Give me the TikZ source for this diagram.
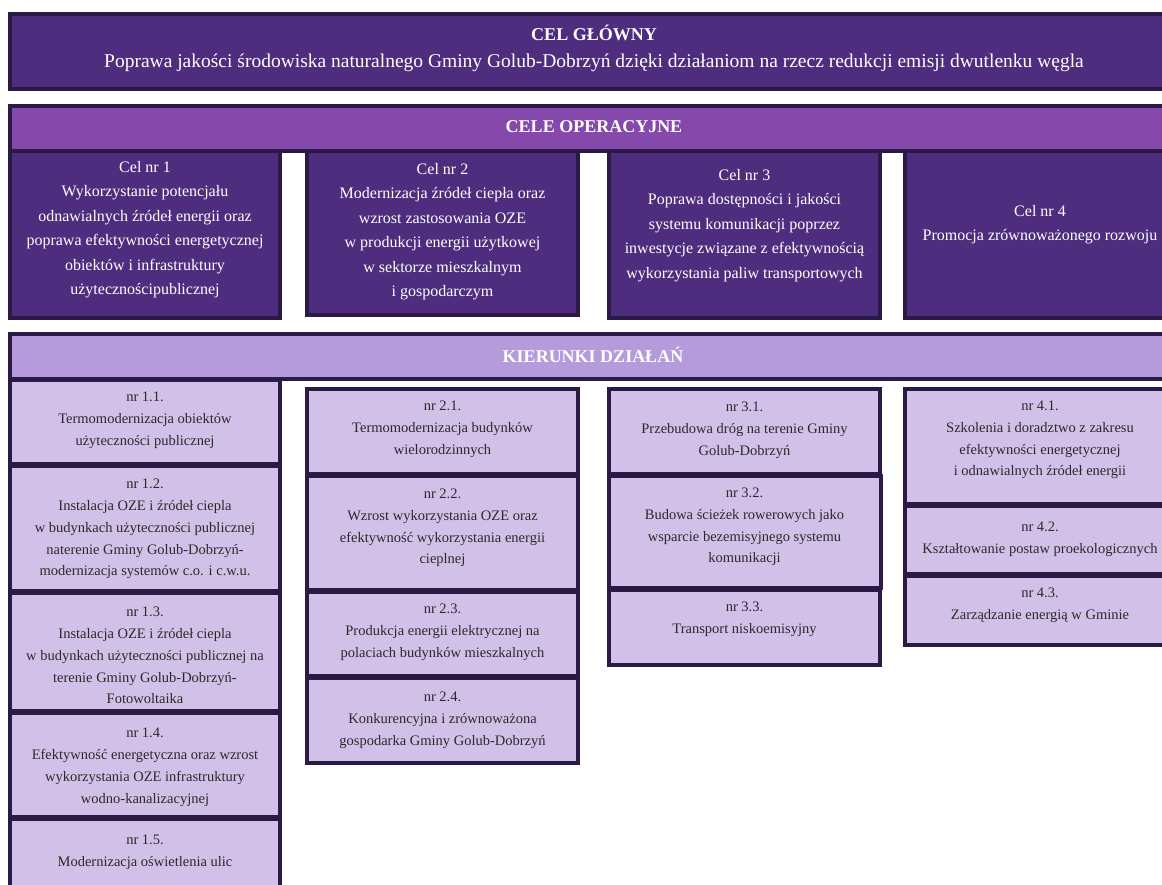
\documentclass[tikz,border=0pt]{standalone}
\usepackage{fontspec}
\setmainfont{Liberation Serif}
\definecolor{bord}{HTML}{2B1A45}
\definecolor{darkp}{HTML}{4F2D7E}
\definecolor{midp}{HTML}{8549AB}
\definecolor{lightp}{HTML}{B59BDB}
\definecolor{palep}{HTML}{D1C1E9}
\definecolor{ink}{HTML}{2A2A2A}
\tikzset{
  darkbox/.style={fill=darkp, draw=bord, line width=4pt},
  midbox/.style={fill=midp, draw=bord, line width=4pt},
  lightbox/.style={fill=lightp, draw=bord, line width=4pt},
  palebox/.style={fill=palep, draw=bord, line width=4pt},
  titletxt/.style={text=white, font=\bfseries\fontsize{18pt}{22pt}\selectfont, inner sep=0pt},
  subtxt/.style={text=white, font=\fontsize{19.5pt}{24pt}\selectfont, inner sep=0pt},
  celtxt/.style={text=white, font=\fontsize{16pt}{24.5pt}\selectfont, align=center, anchor=north, inner sep=0pt},
  kiertxt/.style={text=ink, font=\fontsize{14.5pt}{21.7pt}\selectfont, align=center, anchor=north, inner sep=0pt},
}
\begin{document}
\begin{tikzpicture}[x=1pt,y=-1pt]
\useasboundingbox (0,0) rectangle (1162,884);
\clip (0,0) rectangle (1162,884);
% top box
\path[darkbox] (10,14) rectangle (1185,89);
\node[titletxt] (celg) at (594,33) {CEL GŁÓWNY};
\node[subtxt] (celgsub) at (594,63) {Poprawa jakości środowiska naturalnego Gminy Golub-Dobrzyń dzięki działaniom na rzecz redukcji emisji dwutlenku węgla};
% cele operacyjne
\path[darkbox] (10,151) rectangle (280,318);
\path[darkbox] (307,151) rectangle (578,315);
\path[darkbox] (609,151) rectangle (880,318);
\path[darkbox] (905,151) rectangle (1185,318);
\path[midbox] (10,106) rectangle (1185,151);
\node[titletxt] (celeop) at (594,127) {CELE OPERACYJNE};
\node[celtxt] (cel1) at (145,155) {\strut Cel nr 1\\Wykorzystanie potencjału\\odnawialnych źródeł energii oraz\\poprawa efektywności energetycznej\\obiektów i infrastruktury\\użytecznościpublicznej};
\node[celtxt] (cel2) at (442.5,157) {\strut Cel nr 2\\Modernizacja źródeł ciepła oraz\\wzrost zastosowania OZE\\w produkcji energii użytkowej\\w sektorze mieszkalnym\\i gospodarczym};
\node[celtxt] (cel3) at (744.5,163) {\strut Cel nr 3\\Poprawa dostępności i jakości\\systemu komunikacji poprzez\\inwestycje związane z efektywnością\\wykorzystania paliw transportowych};
\node[celtxt] (cel4) at (1040,199) {\strut Cel nr 4\\Promocja zrównoważonego rozwoju};
% kierunki header
\path[lightbox] (10,334) rectangle (1185,379);
\node[titletxt] (kier) at (593,355) {KIERUNKI DZIAŁAŃ};
% column 1
\path[palebox] (10,380) rectangle (280,464);
\path[palebox] (10,466) rectangle (280,591);
\path[palebox] (10,593) rectangle (280,711);
\path[palebox] (10,713) rectangle (280,817);
\path[palebox] (10,819) rectangle (280,895);
\node[kiertxt] (k11) at (145,386.5) {\strut nr 1.1.\\Termomodernizacja obiektów\\użyteczności publicznej};
\node[kiertxt] (k12) at (145,473.5) {\strut nr 1.2.\\Instalacja OZE i źródeł ciepla\\w budynkach użyteczności publicznej\\naterenie Gminy Golub-Dobrzyń-\\modernizacja systemów c.o. i c.w.u.};
\node[kiertxt] (k13) at (145,601.5) {\strut nr 1.3.\\Instalacja OZE i źródeł ciepla\\w budynkach użyteczności publicznej na\\terenie Gminy Golub-Dobrzyń-\\Fotowoltaika};
\node[kiertxt] (k14) at (145,722.5) {\strut nr 1.4.\\Efektywność energetyczna oraz wzrost\\wykorzystania OZE infrastruktury\\wodno-kanalizacyjnej};
\node[kiertxt] (k15) at (145,829.5) {\strut nr 1.5.\\Modernizacja oświetlenia ulic};
% column 2
\path[palebox] (307,389) rectangle (578,474);
\path[palebox] (307,476) rectangle (578,590);
\path[palebox] (307,592) rectangle (578,676);
\path[palebox] (307,678) rectangle (578,763);
\node[kiertxt] (k21) at (442.5,395.5) {\strut nr 2.1.\\Termomodernizacja budynków\\wielorodzinnych};
\node[kiertxt] (k22) at (442.5,483.5) {\strut nr 2.2.\\Wzrost wykorzystania OZE oraz\\efektywność wykorzystania energii\\cieplnej};
\node[kiertxt] (k23) at (442.5,598.5) {\strut nr 2.3.\\Produkcja energii elektrycznej na\\polaciach budynków mieszkalnych};
\node[kiertxt] (k24) at (442.5,686.5) {\strut nr 2.4.\\Konkurencyjna i zrównoważona\\gospodarka Gminy Golub-Dobrzyń};
% column 3
\path[palebox] (609,389) rectangle (880,474);
\path[palebox] (609,476) rectangle (881,588);
\path[palebox] (609,590) rectangle (880,665);
\node[kiertxt] (k31) at (744.5,396.5) {\strut nr 3.1.\\Przebudowa dróg na terenie Gminy\\Golub-Dobrzyń};
\node[kiertxt] (k32) at (744.5,482.5) {\strut nr 3.2.\\Budowa ścieżek rowerowych jako\\wsparcie bezemisyjnego systemu\\komunikacji};
\node[kiertxt] (k33) at (744.5,596.5) {\strut nr 3.3.\\Transport niskoemisyjny};
% column 4
\path[palebox] (905,389) rectangle (1185,504);
\path[palebox] (905,506) rectangle (1185,574);
\path[palebox] (905,576) rectangle (1185,645);
\node[kiertxt] (k41) at (1040,395.5) {\strut nr 4.1.\\Szkolenia i doradztwo z zakresu\\efektywności energetycznej\\i odnawialnych źródeł energii};
\node[kiertxt] (k42) at (1040,516.5) {\strut nr 4.2.\\Kształtowanie postaw proekologicznych};
\node[kiertxt] (k43) at (1040,582.5) {\strut nr 4.3.\\Zarządzanie energią w Gminie};
\end{tikzpicture}
\end{document}
